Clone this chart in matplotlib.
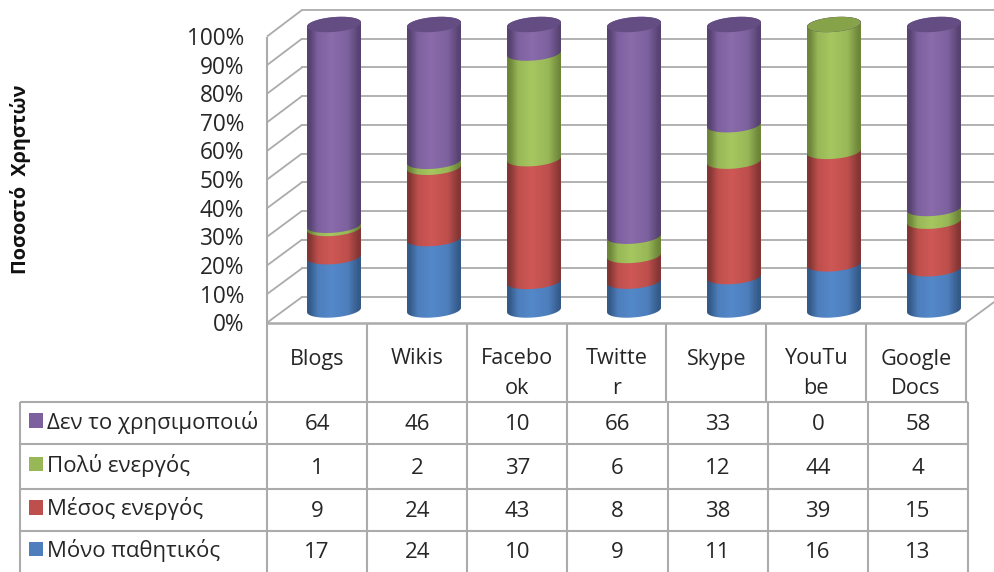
import numpy as np
import matplotlib
matplotlib.use("Agg")
import matplotlib.pyplot as plt
from matplotlib.colors import LinearSegmentedColormap
from matplotlib.path import Path
from matplotlib.patches import PathPatch

categories = [["Blogs"], ["Wikis"], ["Facebo", "ok"], ["Twitte", "r"], ["Skype"], ["YouTu", "be"], ["Google", "Docs"]]
series_names = ["Δεν το χρησιμοποιώ", "Πολύ ενεργός", "Μέσος ενεργός", "Μόνο παθητικός"]
not_used = [64, 46, 10, 66, 33, 0, 58]
very_active = [1, 2, 37, 6, 12, 44, 4]
mid_active = [9, 24, 43, 8, 38, 39, 15]
passive = [17, 24, 10, 9, 11, 16, 13]
percent_ticks = list(range(0, 101, 10))
y_title = "Ποσοστό  Χρηστών"

W, H = 995, 572
FONT = "Open Sans"
TXT = "#262626"
GRID = "#ababab"
palette = {  # edge, mid, light, cap
    "purple": ("#574370", "#7d619f", "#8a6bab", "#644d82"),
    "green": ("#6d8639", "#98b757", "#a6c760", "#86a34a"),
    "red": ("#843634", "#bd4f4c", "#cf5855", "#a84643"),
    "blue": ("#345a88", "#4e7ebc", "#5388c9", "#406a9e"),
}
order_top_down = ["purple", "green", "red", "blue"]

fig = plt.figure(figsize=(W / 100, H / 100), dpi=100, facecolor="white")


def px_axes(x0, x1, ytop, ybottom, **kw):
    return fig.add_axes([x0 / W, 1 - ybottom / H, (x1 - x0) / W, (ybottom - ytop) / H], **kw)


# back wall with its gridlines
wall = px_axes(302, 1001, 10, 297, zorder=0)
wall.set_ylim(0, 100)
wall.set_xlim(0, 1)
wall.set_xticks([])
wall.set_yticks(percent_ticks)
wall.tick_params(left=False, labelleft=False)
wall.grid(axis="y", color=GRID, lw=1.3)
for gl in wall.get_ygridlines():
    gl.set_clip_on(False)
for s in wall.spines.values():
    s.set_visible(False)

# overlay in pixel coordinates: frame, table, text
over = fig.add_axes([0, 0, 1, 1], zorder=1)
over.set_xlim(0, W)
over.set_ylim(H, 0)
over.axis("off")
over.patch.set_alpha(0)


def line(xs, ys, lw=1.3, color=GRID):
    over.plot(xs, ys, color=color, lw=lw, solid_capstyle="butt")


FX0, FX1, FY0, FY100 = 267, 966, 322.7, 36.5
BY0, BY100 = 297, 10
DX = 35
for v in percent_ticks:
    yf = FY0 + (FY100 - FY0) * v / 100
    yb = BY0 + (BY100 - BY0) * v / 100
    line([FX0, FX0 + DX], [yf, yb])
    over.text(244, yf + 2.5, f"{v}%", ha="right", va="center", fontsize=16.3, family=FONT, color=TXT)
line([FX0, FX0], [FY100, 402], lw=1.5)
line([FX0, FX1], [FY0, FY0], lw=1.8)
line([FX1, FX1 + DX], [FY0, BY0])

# upper table (category axis)
ncat = len(categories)
col_u = (FX1 - FX0) / ncat
for i in range(1, ncat + 1):
    line([FX0 + col_u * i] * 2, [FY0, 402], lw=1.5)
for i, lines_ in enumerate(categories):
    cx = FX0 + col_u * (i + 0.5)
    ys = [359] if len(lines_) == 1 else [359, 389]
    for t, y in zip(lines_, ys):
        over.text(cx, y, t, ha="center", va="center", fontsize=15.6, family=FONT, color=TXT)

# lower table (data table)
TL, TS, TR = 20, 267, 968
rows = [402, 444, 489, 531, 572]
for y in rows[:-1]:
    line([TL, TR], [y, y], lw=1.5)
col_l = (TR - TS) / ncat
for x in [TL] + [TS + col_l * i for i in range(ncat + 1)]:
    line([x, x], [402, 572], lw=1.5)
table_rows = [not_used, very_active, mid_active, passive]
for r, (name, vals, key) in enumerate(zip(series_names, table_rows, order_top_down)):
    yc = (rows[r] + rows[r + 1]) / 2
    over.add_patch(plt.Rectangle((29, yc - 10), 14, 14.5, color=palette[key][1], lw=0))
    over.text(47, yc - 1, name, ha="left", va="center", fontsize=16, family=FONT, color=TXT)
    for i, v in enumerate(vals):
        over.text(TS + col_l * (i + 0.5), yc + 1.5, str(v), ha="center", va="center", fontsize=16,
                  family=FONT, color=TXT)

over.text(21, 179, y_title, rotation=90, ha="center", va="center", fontsize=14.3,
          family=FONT, weight="bold", color="#111111")

# cylinders: y from -5 to 105 spans 2.855 px per unit around 310 .. 24.5
PAD = 5
SC = (310 - 24.5) / 100
ax = px_axes(284, 984, 24.5 - PAD * SC, 310 + PAD * SC, zorder=2)
ax.set_xlim(-0.5, 6.5)
ax.set_ylim(-PAD, 100 + PAD)
ax.axis("off")
ax.patch.set_alpha(0)

A = 0.27   # half width, x-units
B = 2.6    # ellipse half height, y-units
T = 0.75   # tilt, y-units
tt = np.linspace(0, 2 * np.pi, 73)


def ell(cx, cy, t, scale=1.0):
    return cx + scale * A * np.cos(t), cy + scale * (B * np.sin(t) + T * np.cos(t))


def body(cx, y0, y1, key):
    cols = palette[key]
    cmap = LinearSegmentedColormap.from_list(
        key, [(0, cols[0]), (0.05, cols[0]), (0.2, cols[1]), (0.45, cols[2]), (0.76, cols[1]), (0.96, cols[0]), (1, cols[0])])
    t_low = np.linspace(np.pi, 2 * np.pi, 37)
    t_up = np.linspace(0, np.pi, 37)
    xb, yb = ell(cx, y0, t_low)
    xt, yt = ell(cx, y1, t_up)
    verts = np.vstack([np.column_stack([xb, yb]), np.column_stack([xt, yt]), [[xb[0], yb[0]]]])
    codes = [Path.MOVETO] + [Path.LINETO] * (len(verts) - 2) + [Path.CLOSEPOLY]
    grad = np.linspace(0, 1, 128)[None, :]
    im = ax.imshow(grad, cmap=cmap, extent=[cx - A, cx + A, y0 - B - T, y1 + B + T], aspect="auto",
                   origin="lower", interpolation="bilinear", zorder=3)
    im.set_clip_path(PathPatch(Path(verts, codes), transform=ax.transData))


stack_bottom_up = [passive, mid_active, very_active, not_used]
keys_bottom_up = order_top_down[::-1]
for i in range(ncat):
    total = sum(s[i] for s in stack_bottom_up)
    base = 0.0
    last = None
    for vals, key in zip(stack_bottom_up, keys_bottom_up):
        h = vals[i] / total * 100
        if h > 0:
            body(i, base, base + h, key)
            base += h
            last = key
    # top cap; a series of zero leaves only a rim of its colour
    if not_used[i] == 0:
        x, y = ell(i, 100, tt)
        ax.fill(x, y, color=palette["purple"][3], lw=0, zorder=4)
        x, y = ell(i, 100, tt, 0.985)
        ax.fill(x, y, color=palette[last][3], lw=0, zorder=4)
    else:
        x, y = ell(i, 100, tt)
        ax.fill(x, y, color=palette[last][3], lw=0, zorder=4)
ax.set_xlim(-0.5, 6.5)
ax.set_ylim(-PAD, 100 + PAD)

fig.savefig("out.png", dpi=100)
